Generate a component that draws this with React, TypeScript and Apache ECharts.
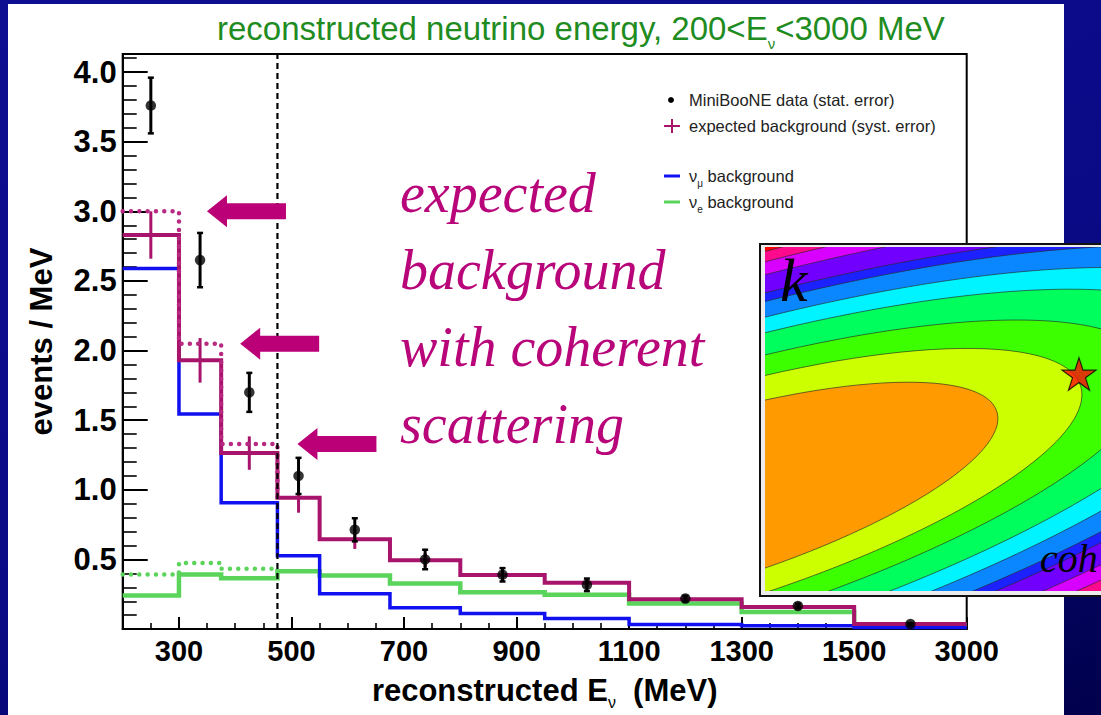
import React, { useEffect, useRef } from "react";
import * as echarts from "echarts";

// ---- histogram binning (reconstructed neutrino energy, MeV) ----
const binEdges = [200, 300, 375, 475, 550, 675, 800, 950, 1100, 1300, 1500, 3000];

// events / MeV in each bin
const dataValues = [3.76, 2.65, 1.7, 1.1, 0.713, 0.5, 0.39, 0.318, 0.219, 0.166, 0.036];
const dataErrors = [0.2, 0.195, 0.14, 0.13, 0.083, 0.07, 0.048, 0.045, 0.02, 0.017, 0.008];
const expectedBackground = [2.83, 1.93, 1.264, 0.943, 0.646, 0.494, 0.388, 0.333, 0.214, 0.159, 0.036];
const expectedSystErrors = [0.17, 0.16, 0.12, 0.107, 0.07, 0.05, 0.035, 0.03, 0.02, 0.015, 0.005];
const numuBackground = [2.59, 1.545, 0.907, 0.527, 0.254, 0.153, 0.112, 0.076, 0.033, 0.024, 0.012];
const nueBackground = [0.242, 0.392, 0.366, 0.416, 0.385, 0.328, 0.264, 0.247, 0.183, 0.123, 0.03];

// coherent-scattering variant (first three bins only)
const coherentEdges = [200, 300, 375, 475];
const expectedWithCoherent = [3.0, 2.05, 1.33];
const nueWithCoherent = [0.392, 0.475, 0.433];

const analysisThreshold = 475;

// axis ticks
const xTickEnergies = [300, 500, 700, 900, 1100, 1300, 1500, 3000];
const yTickValues = [0.5, 1.0, 1.5, 2.0, 2.5, 3.0, 3.5, 4.0];

// ---- inset: chi-square contours in the (coh, k) plane, outermost first ----
const contourScales = [4.0, 2.71, 2.59, 2.44, 2.23, 2.13, 1.95, 1.77, 1.515, 1.28, 1.0];
const contourColors = [
  "#ff0000", "#ff0a8c", "#d800ff", "#7200ff", "#1c22ff", "#0a86ff",
  "#00f4ff", "#00ff5c", "#3cff00", "#ccff00", "#ff9a00",
];
const contourCentre = [-67, 88];
const contourAxes = [312.7, 82.7];
const contourTiltDeg = 17;
const bestFit = [314, 217];

// colours
const PURPLE = "#a8146c";
const PURPLE_DOT = "#b82a82";
const BLUE = "#1010f0";
const GREEN = "#5ad45a";
const MAGENTA = "#bb0077";
const SANS = "'Liberation Sans', Arial, Helvetica, sans-serif";
const SERIF = "'Liberation Serif', 'Times New Roman', serif";

// the last bin (1500-3000) is drawn compressed to a 200 MeV wide slot
const toAxis = (e: number) => (e <= 1500 ? e : 1500 + ((e - 1500) * 200) / 1500);
const AXIS_MAX = toAxis(3000);

function stepData(edges: number[], values: number[], tail?: number) {
  const pts = values.map((v, i) => [toAxis(edges[i]), v]);
  pts.push([toAxis(edges[values.length]), values[values.length - 1]]);
  if (tail !== undefined) pts.push([toAxis(edges[values.length]), tail]);
  return pts;
}

const binCentre = (i: number) => toAxis((binEdges[i] + binEdges[i + 1]) / 2);

const xMajor = xTickEnergies.map(toAxis);
const xMinor: number[] = [];
for (let e = 250; e < 1500; e += 50) if (!xTickEnergies.includes(e)) xMinor.push(e);
const yMinor: number[] = [];
for (let k = 1; k <= 41; k++) if (k % 5 !== 0) yMinor.push(k / 10);

function errorBarItem(color: string, width: number, cap: number) {
  return (params: any, api: any) => {
    const x = api.value(0);
    const y = api.value(1);
    const e = api.value(2);
    const top = api.coord([x, y + e]);
    const bot = api.coord([x, y - e]);
    const children: any[] = [
      {
        type: "line",
        shape: { x1: top[0], y1: top[1], x2: bot[0], y2: bot[1] },
        style: { stroke: color, lineWidth: width },
      },
    ];
    if (cap > 0) {
      children.push(
        { type: "line", shape: { x1: top[0] - cap, y1: top[1], x2: top[0] + cap, y2: top[1] }, style: { stroke: color, lineWidth: 2.5 } },
        { type: "line", shape: { x1: bot[0] - cap, y1: bot[1], x2: bot[0] + cap, y2: bot[1] }, style: { stroke: color, lineWidth: 2.5 } }
      );
    }
    return { type: "group", children };
  };
}

function buildOption(): any {
  const stepLine = (name: string, data: any, color: string, width: number, dotted = false, z = 2) => ({
    name,
    type: "line",
    xAxisIndex: 0,
    yAxisIndex: 0,
    step: "end",
    data,
    symbol: "none",
    showSymbol: false,
    z,
    lineStyle: dotted
      ? { color, width, type: [0.01, 8.3], cap: "round", join: "round" }
      : { color, width, type: "solid", cap: "butt", join: "miter" },
    silent: true,
  });

  return {
    animation: false,
    backgroundColor: "transparent",
    title: {
      text: "reconstructed neutrino energy, 200<E{sub|ν}<3000 MeV",
      left: 212,
      top: 0,
      textStyle: {
        fontFamily: SANS,
        fontSize: 33,
        fontWeight: "normal",
        color: "#1f8c1f",
        lineHeight: 46,
        rich: {
          sub: { fontFamily: SANS, fontSize: 15, color: "#1f8c1f", verticalAlign: "bottom", lineHeight: 15 },
        },
      },
    },
    grid: [
      { left: 122.7, top: 54, width: 844, height: 580, show: true, borderColor: "#000", borderWidth: 2, backgroundColor: "transparent" },
      { left: 765, top: 247, width: 336, height: 344, show: false },
    ],
    xAxis: [
      {
        type: "value",
        gridIndex: 0,
        position: "bottom",
        min: 200,
        max: AXIS_MAX,
        axisLine: { lineStyle: { color: "#000", width: 2 } },
        axisTick: { show: true, inside: true, length: 12, customValues: xMajor, lineStyle: { color: "#000", width: 2 } },
        axisLabel: {
          customValues: xMajor,
          formatter: (v: number) => {
            const i = xMajor.findIndex((m) => Math.abs(m - v) < 1e-6);
            return i >= 0 ? String(xTickEnergies[i]) : "";
          },
          fontFamily: SANS,
          fontSize: 29,
          fontWeight: "bold",
          color: "#000",
          margin: 7,
        },
        splitLine: { show: false },
        name: "reconstructed E{sub|ν}  (MeV)",
        nameLocation: "middle",
        nameGap: 27,
        nameTextStyle: {
          fontFamily: SANS,
          fontSize: 31,
          fontWeight: "bold",
          color: "#000",
          lineHeight: 40,
          verticalAlign: "top",
          rich: {
            sub: { fontFamily: SANS, fontSize: 16, fontWeight: "normal", color: "#000", verticalAlign: "bottom", lineHeight: 16 },
          },
        },
      },
      {
        type: "value",
        gridIndex: 0,
        position: "bottom",
        min: 200,
        max: AXIS_MAX,
        axisLine: { show: false },
        axisTick: { show: true, inside: true, length: 6, customValues: xMinor, lineStyle: { color: "#000", width: 1.6 } },
        axisLabel: { show: false },
        splitLine: { show: false },
      },
      { type: "value", gridIndex: 1, min: 0, max: 336, show: false },
    ],
    yAxis: [
      {
        type: "value",
        gridIndex: 0,
        position: "left",
        min: 0,
        max: 4.13,
        axisLine: { show: true, lineStyle: { color: "#000", width: 2 } },
        axisTick: { show: true, inside: true, length: 25, customValues: yTickValues, lineStyle: { color: "#000", width: 2 } },
        axisLabel: {
          customValues: yTickValues,
          formatter: (v: number) => v.toFixed(1),
          fontFamily: SANS,
          fontSize: 31,
          fontWeight: "bold",
          color: "#000",
          margin: 6,
        },
        splitLine: { show: false },
        name: "events / MeV",
        nameLocation: "middle",
        nameRotate: 90,
        nameGap: 66,
        nameTextStyle: { fontFamily: SANS, fontSize: 31, fontWeight: "bold", color: "#000" },
      },
      {
        type: "value",
        gridIndex: 0,
        position: "left",
        min: 0,
        max: 4.13,
        axisLine: { show: false },
        axisTick: { show: true, inside: true, length: 14, customValues: yMinor, lineStyle: { color: "#000", width: 1.6 } },
        axisLabel: { show: false },
        splitLine: { show: false },
      },
      { type: "value", gridIndex: 1, min: 0, max: 344, show: false },
    ],
    series: [
      stepLine("ν_e background", stepData(binEdges, nueBackground), GREEN, 4.5),
      stepLine("ν_e background with coherent", stepData(coherentEdges, nueWithCoherent, nueBackground[3]), GREEN, 4.5, true),
      stepLine("ν_μ background", stepData(binEdges, numuBackground), BLUE, 3.5, false, 3),
      stepLine("expected background (syst. error)", stepData(binEdges, expectedBackground), PURPLE, 4, false, 4),
      stepLine("expected background with coherent", stepData(coherentEdges, expectedWithCoherent, expectedBackground[3]), PURPLE_DOT, 4.5, true, 4),
      {
        name: "syst. error",
        type: "custom",
        xAxisIndex: 0,
        yAxisIndex: 0,
        z: 4,
        silent: true,
        data: expectedBackground.map((v, i) => [binCentre(i), v, expectedSystErrors[i]]),
        renderItem: errorBarItem(PURPLE, 3, 0),
      },
      {
        name: "threshold",
        type: "line",
        xAxisIndex: 0,
        yAxisIndex: 0,
        data: [
          [analysisThreshold, 0],
          [analysisThreshold, 4.13],
        ],
        symbol: "none",
        z: 5,
        silent: true,
        lineStyle: { color: "#000", width: 2.2, type: [6, 4] },
      },
      {
        name: "stat. error",
        type: "custom",
        xAxisIndex: 0,
        yAxisIndex: 0,
        z: 6,
        silent: true,
        data: dataValues.map((v, i) => [binCentre(i), v, dataErrors[i]]),
        renderItem: errorBarItem("#000", 3, 3),
      },
      {
        name: "MiniBooNE data (stat. error)",
        type: "scatter",
        xAxisIndex: 0,
        yAxisIndex: 0,
        z: 7,
        silent: true,
        symbol: "circle",
        symbolSize: 10.5,
        itemStyle: { color: "#000" },
        data: dataValues.map((v, i) => [binCentre(i), v]),
      },
      {
        name: "chi2 contours",
        type: "custom",
        xAxisIndex: 2,
        yAxisIndex: 2,
        z: 11,
        silent: true,
        clip: true,
        data: contourScales.map((s) => [s]),
        renderItem: (params: any, api: any) => {
          const s = api.value(0);
          const c = api.coord(contourCentre);
          const r = api.size([contourAxes[0] * s, contourAxes[1] * s]);
          const cs = params.coordSys;
          return {
            type: "group",
            clipPath: { type: "rect", shape: { x: cs.x, y: cs.y, width: cs.width, height: cs.height } },
            children: [
              {
                type: "ellipse",
                x: c[0],
                y: c[1],
                rotation: (contourTiltDeg * Math.PI) / 180,
                shape: { cx: 0, cy: 0, rx: r[0], ry: r[1] },
                style: { fill: contourColors[params.dataIndex], stroke: "rgba(40,40,40,0.75)", lineWidth: 0.8 },
              },
            ],
          };
        },
      },
      {
        name: "best fit",
        type: "scatter",
        xAxisIndex: 2,
        yAxisIndex: 2,
        z: 12,
        silent: true,
        symbol: "path://M50,2 L61.2,36.6 L97.6,36.6 L68.2,58 L79.4,92.6 L50,71.2 L20.6,92.6 L31.8,58 L2.4,36.6 L38.8,36.6 Z",
        symbolKeepAspect: true,
        symbolSize: 34,
        itemStyle: { color: "#ff0a0a", borderColor: "#000", borderWidth: 1.2 },
        data: [bestFit],
      },
    ],
  };
}

// vertical placement helper: zrender centres a text line on y, the baseline sits ~0.35 em lower
const baselineToMiddle = (baseline: number, size: number) => baseline - 0.35 * size;

function buildGraphics(chart: any) {
  const els: any[] = [];

  // inset frame
  els.push({
    type: "rect",
    z: 10,
    shape: { x: 760, y: 244, width: 400, height: 352 },
    style: { fill: "#ececec", stroke: "#111", lineWidth: 2 },
  });

  // arrows pointing at the coherent-scattering levels
  const tipOffsets = [28, 19, 20];
  expectedWithCoherent.forEach((v, i) => {
    const p = chart.convertToPixel({ xAxisIndex: 0, yAxisIndex: 0 }, [toAxis(coherentEdges[i + 1]), v]);
    const tx = p[0] + tipOffsets[i];
    const ty = p[1];
    const head = 20;
    const len = 79;
    els.push({
      type: "polygon",
      z: 10,
      shape: {
        points: [
          [tx, ty],
          [tx + head, ty - 16],
          [tx + head, ty - 8],
          [tx + len, ty - 8],
          [tx + len, ty + 8],
          [tx + head, ty + 8],
          [tx + head, ty + 16],
        ],
      },
      style: { fill: MAGENTA },
    });
  });

  const annotation = ["expected", "background", "with coherent", "scattering"];
  annotation.forEach((t, i) => {
    els.push({
      type: "text",
      z: 10,
      x: 400,
      y: baselineToMiddle(213 + i * 77, 56),
      style: {
        text: t,
        font: `italic 56px ${SERIF}`,
        fill: "#b8067a",
        verticalAlign: "middle",
        align: "left",
      },
    });
  });

  // legend
  const lx = 664;
  const tx = 689;
  const legendFont = `16.5px ${SANS}`;
  els.push({ type: "circle", z: 10, shape: { cx: lx + 7, cy: 100, r: 3 }, style: { fill: "#000" } });
  els.push({ type: "line", z: 10, shape: { x1: lx, y1: 126, x2: lx + 16, y2: 126 }, style: { stroke: PURPLE, lineWidth: 2 } });
  els.push({ type: "line", z: 10, shape: { x1: lx + 8, y1: 119, x2: lx + 8, y2: 133 }, style: { stroke: PURPLE, lineWidth: 2 } });
  els.push({ type: "line", z: 10, shape: { x1: lx, y1: 176, x2: lx + 16, y2: 176 }, style: { stroke: BLUE, lineWidth: 3 } });
  els.push({ type: "line", z: 10, shape: { x1: lx, y1: 202, x2: lx + 16, y2: 202 }, style: { stroke: GREEN, lineWidth: 3 } });
  const legendRich = {
    t: { font: legendFont, fill: "#222", lineHeight: 24 },
    s: { font: `10px ${SANS}`, fill: "#222", verticalAlign: "bottom", lineHeight: 10 },
  };
  [
    { y: 100, text: "{t|MiniBooNE data (stat. error)}" },
    { y: 126, text: "{t|expected background (syst. error)}" },
    { y: 176, text: "{t|ν}{s|μ}{t| background}" },
    { y: 202, text: "{t|ν}{s|e}{t| background}" },
  ].forEach((row) => {
    els.push({
      type: "text",
      z: 10,
      x: tx,
      y: row.y,
      style: { text: row.text, rich: legendRich, verticalAlign: "middle", align: "left", font: legendFont, fill: "#222" },
    });
  });

  // inset axis letters
  els.push({
    type: "text",
    z: 13,
    x: 780,
    y: baselineToMiddle(302, 62),
    style: { text: "k", font: `italic 62px ${SERIF}`, fill: "#000", verticalAlign: "middle" },
  });
  els.push({
    type: "text",
    z: 13,
    x: 1040,
    y: baselineToMiddle(572, 40),
    style: { text: "coh", font: `italic 40px ${SERIF}`, fill: "#000", verticalAlign: "middle" },
  });

  return els;
}

export default function App() {
  const ref = useRef<HTMLDivElement>(null);
  useEffect(() => {
    if (!ref.current) return;
    const chart = echarts.init(ref.current, null, { renderer: "svg" });
    chart.setOption(buildOption());
    chart.setOption({ graphic: { elements: buildGraphics(chart) } });
    return () => chart.dispose();
  }, []);
  return (
    <div
      style={{
        position: "fixed",
        left: 0,
        top: 0,
        width: 1101,
        height: 715,
        overflow: "hidden",
        background: "linear-gradient(160deg, #0e0e92 0%, #0a0a86 55%, #00004c 100%)",
      }}
    >
      <div style={{ position: "absolute", left: 8, top: 4, width: 1056, height: 711, background: "#fff" }} />
      <div ref={ref} style={{ position: "absolute", left: 0, top: 0, width: 1101, height: 715 }} />
    </div>
  );
}
